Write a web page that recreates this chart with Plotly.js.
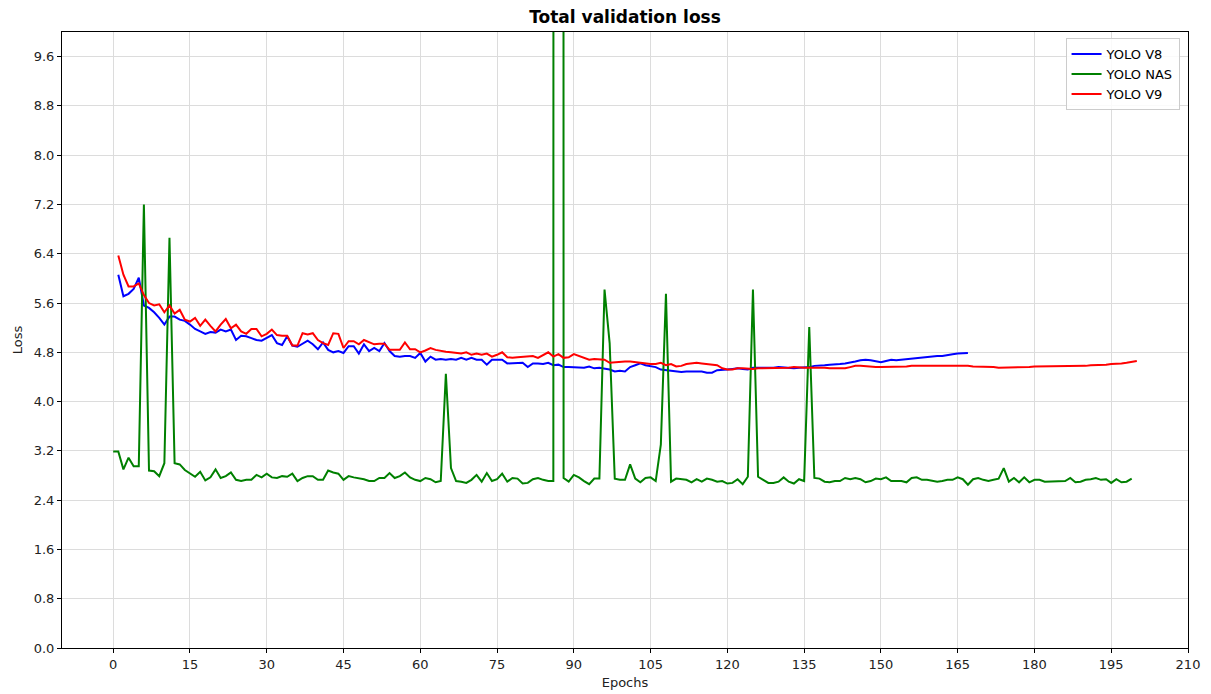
<!DOCTYPE html>
<html>
<head>
<meta charset="utf-8">
<script src="https://cdn.plot.ly/plotly-3.0.1.min.js"></script>
<style>html,body{margin:0;padding:0;background:#fff;}#chart{width:1211px;height:694px;}</style>
</head>
<body>
<div id="chart"></div>
<script>
// YOLO NAS, epochs 0..199
const nasLoss = [
3.19,3.19,2.90,3.09,2.95,2.95,7.20,2.88,2.87,2.79,
3.00,6.66,3.00,2.98,2.89,2.83,2.78,2.86,2.72,2.77,
2.90,2.76,2.79,2.85,2.73,2.71,2.73,2.73,2.81,2.77,
2.83,2.77,2.76,2.79,2.78,2.83,2.71,2.76,2.79,2.79,
2.73,2.73,2.88,2.85,2.83,2.73,2.79,2.77,2.76,2.74,
2.71,2.71,2.76,2.76,2.84,2.76,2.79,2.85,2.77,2.73,
2.71,2.76,2.74,2.69,2.71,4.45,2.92,2.71,2.70,2.68,
2.73,2.81,2.70,2.84,2.71,2.74,2.83,2.70,2.76,2.75,
2.67,2.68,2.74,2.76,2.73,2.71,2.71,500.0,2.76,2.70,
2.81,2.77,2.71,2.66,2.75,2.75,5.82,4.95,2.75,2.73,
2.73,2.98,2.75,2.69,2.76,2.77,2.71,3.30,5.75,2.70,
2.75,2.74,2.73,2.69,2.74,2.70,2.75,2.73,2.70,2.71,
2.67,2.68,2.74,2.66,2.78,5.82,2.78,2.73,2.68,2.68,
2.70,2.77,2.70,2.67,2.74,2.71,5.21,2.76,2.75,2.70,
2.69,2.71,2.71,2.76,2.74,2.76,2.74,2.69,2.71,2.75,
2.74,2.77,2.71,2.71,2.71,2.69,2.76,2.77,2.73,2.73,
2.71,2.70,2.71,2.73,2.73,2.77,2.74,2.65,2.74,2.76,
2.73,2.71,2.73,2.75,2.92,2.70,2.76,2.69,2.77,2.69,
2.73,2.73,2.70,2.70,2.71,2.70,2.71,2.76,2.69,2.70,
2.73,2.74,2.76,2.73,2.74,2.68,2.74,2.69,2.70,2.75
];
const nasEpochs = nasLoss.map((_, i) => i);

// YOLO V8, epochs 1..167
const v8Loss = [
6.06,5.71,5.75,5.83,6.01,5.56,5.52,5.45,5.36,5.25,
5.38,5.38,5.33,5.31,5.25,5.18,5.14,5.10,5.13,5.12,
5.17,5.14,5.17,5.00,5.07,5.06,5.03,5.00,4.99,5.03,
5.08,4.95,4.92,5.06,4.91,4.89,4.94,4.99,4.93,4.85,
4.96,4.84,4.80,4.82,4.79,4.90,4.90,4.78,4.93,4.82,
4.87,4.82,4.95,4.82,4.74,4.73,4.74,4.74,4.71,4.79,
4.65,4.73,4.68,4.69,4.68,4.69,4.68,4.71,4.68,4.71,
4.68,4.68,4.60,4.68,4.68,4.68,4.62,4.62,4.62,4.63,
4.56,4.62,4.62,4.61,4.63,4.59,4.60,4.56,4.56,4.56,
4.56,4.55,4.57,4.54,4.55,4.54,4.52,4.49,4.50,4.49,
4.56,4.59,4.62,4.59,4.57,4.56,4.52,4.51,4.51,4.50,
4.48,4.49,4.49,4.49,4.49,4.47,4.47,4.51,4.51,4.52,
4.53,4.54,4.53,4.52,4.55,4.55,4.54,4.54,4.55,4.56,
4.55,4.54,4.54,4.55,4.55,4.56,4.58,4.58,4.59,4.60,
4.60,4.61,4.62,4.63,4.65,4.67,4.68,4.67,4.65,4.64,
4.66,4.68,4.67,4.68,4.69,4.70,4.70,4.71,4.72,4.73,
4.74,4.74,4.76,4.77,4.78,4.78,4.79
];
const v8Epochs = v8Loss.map((_, i) => i + 1);

// YOLO V9, epochs 1..200
const v9Loss = [
6.37,6.06,5.87,5.87,5.92,5.73,5.60,5.56,5.58,5.45,
5.56,5.43,5.49,5.33,5.30,5.36,5.23,5.33,5.23,5.14,
5.25,5.34,5.19,5.25,5.14,5.10,5.18,5.18,5.06,5.10,
5.17,5.08,5.07,5.07,4.91,4.91,5.11,5.09,5.11,5.00,
4.95,4.92,5.11,5.10,4.87,4.98,4.98,4.93,5.00,4.96,
4.93,4.94,4.94,4.84,4.84,4.84,4.96,4.85,4.85,4.80,
4.83,4.87,4.84,4.82,4.81,4.80,4.79,4.78,4.80,4.76,
4.78,4.76,4.78,4.73,4.76,4.80,4.72,4.71,4.72,4.73,
4.73,4.74,4.71,4.76,4.80,4.73,4.77,4.71,4.72,4.77,
4.74,4.71,4.68,4.69,4.68,4.68,4.63,4.64,4.65,4.65,
4.65,4.64,4.63,4.61,4.61,4.61,4.63,4.59,4.61,4.57,
4.58,4.61,4.62,4.63,4.62,4.61,4.59,4.59,4.54,4.52,
4.52,4.54,4.54,4.53,4.53,4.54,4.54,4.54,4.55,4.55,
4.54,4.55,4.56,4.55,4.55,4.55,4.55,4.56,4.55,4.54,
4.54,4.53,4.54,4.56,4.58,4.58,4.57,4.57,4.56,4.56,
4.56,4.57,4.57,4.57,4.57,4.58,4.58,4.58,4.59,4.59,
4.59,4.59,4.58,4.58,4.58,4.58,4.58,4.57,4.57,4.57,
4.56,4.56,4.55,4.55,4.55,4.55,4.56,4.56,4.56,4.57,
4.57,4.57,4.57,4.57,4.57,4.58,4.58,4.58,4.58,4.58,
4.59,4.59,4.60,4.60,4.61,4.61,4.62,4.63,4.65,4.66
];
const v9Epochs = v9Loss.map((_, i) => i + 1);

const seriesNames = ["YOLO V8", "YOLO NAS", "YOLO V9"];
const seriesColors = ["#0000ff", "#008000", "#ff0000"];

const xTickVals = [0,15,30,45,60,75,90,105,120,135,150,165,180,195,210];
const yTickVals = [0.0,0.8,1.6,2.4,3.2,4.0,4.8,5.6,6.4,7.2,8.0,8.8,9.6];

const font = "DejaVu Sans, sans-serif";

const traces = [
  {x: v8Epochs, y: v8Loss, name: seriesNames[0], mode: "lines", line: {color: seriesColors[0], width: 2}},
  {x: nasEpochs, y: nasLoss, name: seriesNames[1], mode: "lines", line: {color: seriesColors[1], width: 2}},
  {x: v9Epochs, y: v9Loss, name: seriesNames[2], mode: "lines", line: {color: seriesColors[2], width: 2}}
];

const axisCommon = {
  showline: true, linecolor: "#000", linewidth: 1, mirror: true,
  ticks: "outside", ticklen: 4, tickcolor: "#000", tickwidth: 1,
  showgrid: true, gridcolor: "#dcdcdc", gridwidth: 1,
  zeroline: false,
  tickfont: {family: font, size: 13, color: "#222"}
};

const layout = {
  width: 1211, height: 694,
  margin: {l: 62, r: 23, t: 32, b: 46},
  paper_bgcolor: "#fff", plot_bgcolor: "#fff",
  title: {text: "<b>Total validation loss</b>", font: {family: font, size: 17, color: "#000"},
          x: 0.5, xref: "paper", y: 1 - 17/694, yref: "container", yanchor: "middle"},
  xaxis: Object.assign({}, axisCommon, {
    range: [-10, 210], tickvals: xTickVals, ticktext: xTickVals.map(String),
    title: {text: "Epochs", font: {family: font, size: 13, color: "#222"}, standoff: 7}
  }),
  yaxis: Object.assign({}, axisCommon, {
    range: [0, 10], tickvals: yTickVals, ticktext: yTickVals.map(v => v.toFixed(1)),
    title: {text: "Loss", font: {family: font, size: 13, color: "#222"}, standoff: 8}
  }),
  legend: {
    x: 0.9925, y: 0.99, xanchor: "right", yanchor: "top",
    bgcolor: "rgba(255,255,255,0.85)", bordercolor: "#cccccc", borderwidth: 1,
    font: {family: font, size: 13, color: "#000"}, tracegroupgap: 0
  },
  showlegend: true
};

Plotly.newPlot("chart", traces, layout, {displayModeBar: false, staticPlot: true});
</script>
</body>
</html>
